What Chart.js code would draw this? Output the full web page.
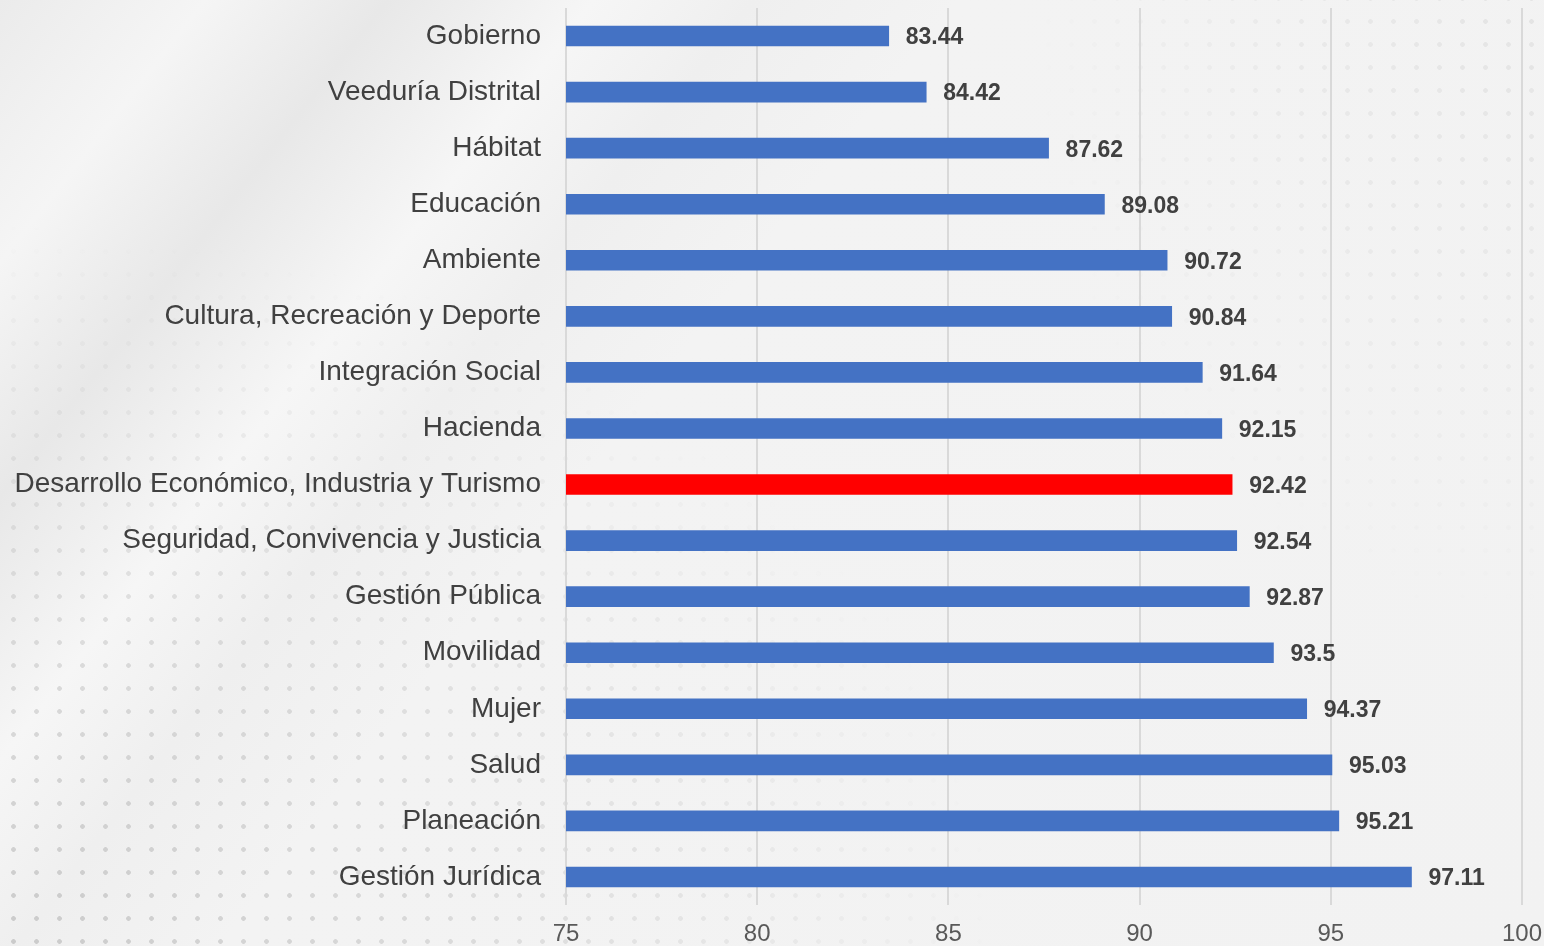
<!DOCTYPE html>
<html>
<head>
<meta charset="utf-8">
<script src="https://cdn.jsdelivr.net/npm/chart.js@4.4.1/dist/chart.umd.min.js"></script>
<style>
  html, body { margin: 0; padding: 0; }
  body {
    width: 1544px; height: 946px; overflow: hidden; position: relative;
    background:
      linear-gradient(128deg, #ebebeb 0%, #f5f5f5 9%, #e8e8e8 17%, #f6f6f6 26%, #efefef 33%, #f3f3f3 42%, #f2f2f2 100%);
  }
  .dots {
    position: absolute; inset: 0;
    background-image: radial-gradient(circle, rgba(175,175,175,0.6) 2px, transparent 2.7px);
    background-size: 23px 23px;
    background-position: 2px 10px;
  }
  .dots.low {
    -webkit-mask-image: radial-gradient(ellipse 1000px 720px at 0% 100%, rgba(0,0,0,0.95) 0%, rgba(0,0,0,0.6) 45%, rgba(0,0,0,0) 100%);
    mask-image: radial-gradient(ellipse 1000px 720px at 0% 100%, rgba(0,0,0,0.95) 0%, rgba(0,0,0,0.6) 45%, rgba(0,0,0,0) 100%);
  }
  .dots.high {
    -webkit-mask-image: radial-gradient(ellipse 520px 620px at 100% 0%, rgba(0,0,0,0.35) 0%, rgba(0,0,0,0.2) 55%, rgba(0,0,0,0) 100%);
    mask-image: radial-gradient(ellipse 520px 620px at 100% 0%, rgba(0,0,0,0.35) 0%, rgba(0,0,0,0.2) 55%, rgba(0,0,0,0) 100%);
  }
  #wrap { position: absolute; left: 0; top: 0; width: 1544px; height: 946px; }
</style>
</head>
<body>
<div class="dots low"></div>
<div class="dots high"></div>
<div id="wrap"><canvas id="c" width="1544" height="946"></canvas></div>
<script>
// Sectors and their scores
const categories = [
  'Gobierno',
  'Veeduría Distrital',
  'Hábitat',
  'Educación',
  'Ambiente',
  'Cultura, Recreación y Deporte',
  'Integración Social',
  'Hacienda',
  'Desarrollo Económico, Industria y Turismo',
  'Seguridad, Convivencia y Justicia',
  'Gestión Pública',
  'Movilidad',
  'Mujer',
  'Salud',
  'Planeación',
  'Gestión Jurídica'
];
const scores = [83.44, 84.42, 87.62, 89.08, 90.72, 90.84, 91.64, 92.15, 92.42, 92.54, 92.87, 93.5, 94.37, 95.03, 95.21, 97.11];
const highlighted = 'Desarrollo Económico, Industria y Turismo';
const xTicks = [75, 80, 85, 90, 95, 100];

const barColors = categories.map(c => c === highlighted ? '#ff0000' : '#4472c4');

// Value labels written just past the end of each bar
const valueLabels = {
  id: 'valueLabels',
  afterDatasetsDraw(chart) {
    const ctx = chart.ctx;
    const meta = chart.getDatasetMeta(0);
    ctx.save();
    ctx.font = 'bold 23px "Liberation Sans", Arial, sans-serif';
    ctx.fillStyle = '#404040';
    ctx.textAlign = 'left';
    ctx.textBaseline = 'middle';
    meta.data.forEach((bar, i) => {
      ctx.fillText(String(scores[i]), bar.x + 17, bar.y + 2);
    });
    ctx.restore();
  }
};

new Chart(document.getElementById('c'), {
  type: 'bar',
  data: {
    labels: categories,
    datasets: [{
      data: scores,
      backgroundColor: barColors,
      borderWidth: 0,
      barThickness: 20
    }]
  },
  options: {
    indexAxis: 'y',
    responsive: false,
    animation: false,
    layout: { padding: { top: 8, right: 22, left: 0, bottom: 0 } },
    plugins: {
      legend: { display: false },
      tooltip: { enabled: false }
    },
    scales: {
      x: {
        min: 75,
        max: 100,
        afterBuildTicks(scale) {
          scale.ticks = xTicks.map(v => ({ value: v }));
        },
        afterFit(scale) {
          scale.height = 41;
          scale.paddingLeft = 0;
          scale.paddingRight = 0;
        },
        grid: { color: '#d9d9d9', lineWidth: 2, drawTicks: false },
        border: { display: false },
        ticks: {
          color: '#595959',
          font: { family: '"Liberation Sans", Arial, sans-serif', size: 24 },
          padding: 15,
          maxRotation: 0
        }
      },
      y: {
        afterFit(scale) {
          scale.width = 566;
          scale.paddingTop = 0;
          scale.paddingBottom = 0;
        },
        grid: { display: false, drawTicks: false },
        border: { display: false },
        ticks: {
          color: '#404040',
          font: { family: '"Liberation Sans", Arial, sans-serif', size: 28 },
          padding: 25,
          autoSkip: false
        }
      }
    }
  },
  plugins: [valueLabels]
});
</script>
</body>
</html>
